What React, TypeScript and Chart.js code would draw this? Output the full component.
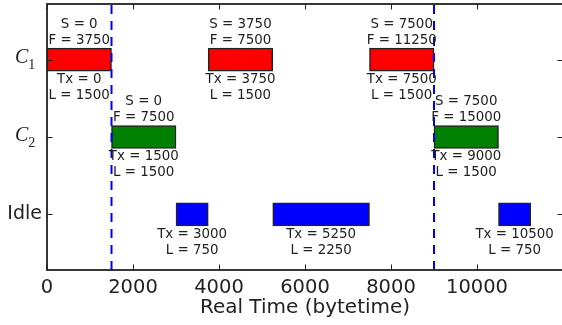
import React, { useEffect, useRef } from 'react';
import { Chart, registerables } from 'chart.js';

Chart.register(...registerables);

// ---- data ----
const categories = ['C_1', 'C_2', 'Idle'];
const categoryPos = [2, 1, 0];

const c1Tx = [0, 3750, 7500];
const c1L = [1500, 1500, 1500];
const c1S = [0, 3750, 7500];
const c1F = [3750, 7500, 11250];

const c2Tx = [1500, 9000];
const c2L = [1500, 1500];
const c2S = [0, 7500];
const c2F = [7500, 15000];

const idleTx = [3000, 5250, 10500];
const idleL = [750, 2250, 750];

const markerLines = [1500, 9000];
const xTicks = [0, 2000, 4000, 6000, 8000, 10000, 12000];
const xTitle = 'Real Time (bytetime)';
const xMin = 0;
const xMax = 12000;
const yMin = -0.72;
const yMax = 2.72;

const barColors = ['#ff0000', '#008000', '#0000ff'];

type Series = { tx: number[]; l: number[]; s?: number[]; f?: number[]; y: number };
const series: Series[] = [
  { tx: c1Tx, l: c1L, s: c1S, f: c1F, y: categoryPos[0] },
  { tx: c2Tx, l: c2L, s: c2S, f: c2F, y: categoryPos[1] },
  { tx: idleTx, l: idleL, y: categoryPos[2] },
];

const INK = '#222222';
const CANVAS_W = 569;

const overlay = {
  id: 'overlay',
  afterDatasetsDraw(chart: any) {
    const { ctx, chartArea: a, scales } = chart;
    const x = scales.x;
    const y = scales.y;
    ctx.save();

    // dashed marker lines
    ctx.strokeStyle = '#0000ff';
    ctx.lineWidth = 2;
    ctx.setLineDash([9, 7]);
    markerLines.forEach((v) => {
      const px = x.getPixelForValue(v);
      ctx.beginPath();
      ctx.moveTo(px, a.bottom);
      ctx.lineTo(px, a.top);
      ctx.stroke();
    });
    ctx.setLineDash([]);

    // annotations
    ctx.fillStyle = INK;
    ctx.font = '13.4px "DejaVu Sans"';
    ctx.textAlign = 'center';
    ctx.textBaseline = 'middle';
    series.forEach((s) => {
      const cy = y.getPixelForValue(s.y);
      s.tx.forEach((t, i) => {
        const cx = x.getPixelForValue(t + s.l[i] / 2);
        if (s.s && s.f) {
          ctx.fillText(`S = ${s.s[i]}`, cx, cy - 35);
          ctx.fillText(`F = ${s.f[i]}`, cx, cy - 19);
        }
        ctx.fillText(`Tx = ${t}`, cx, cy + 20);
        ctx.fillText(`L = ${s.l[i]}`, cx, cy + 36);
      });
    });

    // spines
    ctx.strokeStyle = INK;
    ctx.lineWidth = 1.8;
    ctx.strokeRect(a.left, a.top, a.right - a.left, a.bottom - a.top);

    // inward ticks
    ctx.lineWidth = 1;
    const tl = 5.5;
    xTicks.forEach((v) => {
      const px = Math.round(x.getPixelForValue(v)) + 0.5;
      ctx.beginPath();
      ctx.moveTo(px, a.bottom);
      ctx.lineTo(px, a.bottom - tl);
      ctx.moveTo(px, a.top);
      ctx.lineTo(px, a.top + tl);
      ctx.stroke();
    });
    categoryPos.forEach((v) => {
      const py = Math.round(y.getPixelForValue(v)) + 0.5;
      ctx.beginPath();
      ctx.moveTo(a.left, py);
      ctx.lineTo(a.left + tl, py);
      ctx.moveTo(a.right, py);
      ctx.lineTo(a.right - tl, py);
      ctx.stroke();
    });

    // y category labels
    ctx.fillStyle = INK;
    categories.forEach((c, i) => {
      const py = y.getPixelForValue(categoryPos[i]);
      const m = c.match(/^(.*)_(.*)$/);
      if (m) {
        ctx.textAlign = 'left';
        ctx.textBaseline = 'alphabetic';
        ctx.font = 'italic 20px "Liberation Serif"';
        const bx = 15;
        ctx.fillText(m[1], bx, py + 3.5);
        const w = ctx.measureText(m[1]).width;
        ctx.font = '14px "Liberation Serif"';
        ctx.fillText(m[2], bx + w, py + 9.5);
      } else {
        ctx.textAlign = 'right';
        ctx.textBaseline = 'middle';
        ctx.font = '19px "DejaVu Sans"';
        ctx.fillText(c, a.left - 5, py);
      }
    });

    ctx.restore();
  },
};

const whiteBg = {
  id: 'whiteBg',
  beforeDraw(chart: any) {
    const { ctx, width, height } = chart;
    ctx.save();
    ctx.fillStyle = '#ffffff';
    ctx.fillRect(0, 0, width, height);
    ctx.restore();
  },
};

export default function App() {
  const ref = useRef<HTMLCanvasElement | null>(null);

  useEffect(() => {
    if (!ref.current) return;
    const datasets = series.map((s, k) => ({
      label: categories[k],
      data: s.tx.map((t, i) => ({ x: [t, t + s.l[i]], y: s.y })),
      backgroundColor: barColors[k],
      borderColor: INK,
      borderWidth: 1.5,
      borderSkipped: false,
      barThickness: 23,
      grouped: false,
    }));

    const chart = new Chart(ref.current, {
      type: 'bar',
      data: { datasets } as any,
      plugins: [whiteBg, overlay],
      options: {
        indexAxis: 'y',
        animation: false,
        responsive: false,
        devicePixelRatio: 1,
        layout: { padding: { top: 4, right: 0, left: 0, bottom: 0 } },
        plugins: {
          legend: { display: false },
          tooltip: { enabled: false },
        },
        scales: {
          x: {
            type: 'linear',
            min: xMin,
            max: xMax,
            offset: false,
            grid: { display: false, drawTicks: false },
            border: { display: false },
            afterBuildTicks: (scale: any) => {
              scale.ticks = xTicks.map((v) => ({ value: v }));
            },
            ticks: {
              color: INK,
              font: { family: 'DejaVu Sans', size: 19.5 },
              padding: 6,
              maxRotation: 0,
              autoSkip: false,
              callback: (v: any) => (v === xMax ? '' : String(v)),
            },
            title: {
              display: true,
              text: xTitle,
              color: INK,
              font: { family: 'DejaVu Sans', size: 20 },
              padding: { top: 0, bottom: 5 },
            },
            afterFit: (scale: any) => {
              scale.height = 55;
            },
          },
          y: {
            type: 'linear',
            min: yMin,
            max: yMax,
            offset: false,
            grid: { display: false, drawTicks: false },
            border: { display: false },
            ticks: { display: false },
            afterBuildTicks: (scale: any) => {
              scale.ticks = categoryPos.map((v) => ({ value: v }));
            },
            afterFit: (scale: any) => {
              scale.width = 47;
            },
          },
        },
      } as any,
    });
    return () => chart.destroy();
  }, []);

  return (
    <div
      style={{
        position: 'absolute',
        left: 0,
        top: 0,
        width: 562,
        height: 325,
        overflow: 'hidden',
        background: '#fff',
      }}
    >
      <canvas
        ref={ref}
        width={CANVAS_W}
        height={325}
        style={{ width: CANVAS_W, height: 325, display: 'block' }}
      />
    </div>
  );
}
